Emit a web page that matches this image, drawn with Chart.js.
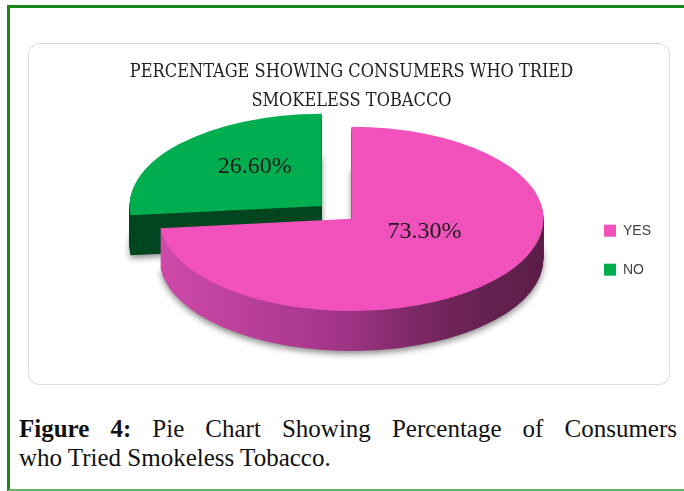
<!DOCTYPE html>
<html>
<head>
<meta charset="utf-8">
<script src="https://cdn.jsdelivr.net/npm/chart.js@4/dist/chart.umd.min.js"></script>
<style>
  html, body { margin: 0; padding: 0; background: #fff; }
  body { width: 684px; height: 491px; position: relative; overflow: hidden; }
  #frame { position: absolute; left: 7px; top: 5px; width: 690px; height: 481px;
           border-left: 3px solid #17891a; border-top: 3px solid #17891a; border-bottom: 2px solid #62b862; }
  #box { position: absolute; left: 28px; top: 43px; width: 640px; height: 340px;
         border: 1.5px dotted #b9b9b9; border-radius: 12px; }
  #wrap { position: absolute; left: 28px; top: 43px; width: 642px; height: 342px; }
  .cap { position: absolute; left: 19px; width: 658px; white-space: nowrap;
         font-family: "Liberation Serif", serif; font-size: 25px; line-height: 29px; color: #111; }
  #cap1 { top: 414px; text-align: justify; text-align-last: justify; }
  #cap2 { top: 443px; text-align: left; }
  .cap b { font-weight: bold; }
</style>
</head>
<body>
<div id="frame"></div>
<div id="box"></div>
<div id="wrap"><canvas id="c" width="642" height="342"></canvas></div>
<div class="cap" id="cap1"><b>Figure 4:</b> Pie Chart Showing Percentage of Consumers</div>
<div class="cap" id="cap2">who Tried Smokeless Tobacco.</div>
<script>
const categories = ["YES", "NO"];
const values = [73.3, 26.6];
const valueLabels = ["73.30%", "26.60%"];
const titleLines = ["PERCENTAGE SHOWING CONSUMERS WHO TRIED", "SMOKELESS TOBACCO"];
const topColors = ["#F051BA", "#00AE4F"];

const TILT = 0.48;      // vertical squash of the pie
const DEPTH = 40;       // thickness of the 3D side

function sideFill(ctx, arc, i) {
  if (i === 1) return "#00461F";
  const g = ctx.createLinearGradient(arc.x - arc.outerRadius, 0, arc.x + arc.outerRadius, 0);
  g.addColorStop(0, "#CF4AAA");
  g.addColorStop(0.45, "#A43689");
  g.addColorStop(0.75, "#6E2459");
  g.addColorStop(1, "#5A1D47");
  return g;
}

function copyOpts(o, bg) {
  const keys = ['offset','spacing','circular','borderAlign','borderRadius','borderJoinStyle','borderDash','borderDashOffset','borderColor','selfJoin'];
  const r = {};
  keys.forEach(k => { r[k] = o[k]; });
  r.backgroundColor = bg;
  r.borderWidth = 0;
  return r;
}

const tiltPlugin = {
  id: 'tilt3d',
  beforeDatasetsDraw(chart) {
    const ctx = chart.ctx;
    const meta = chart.getDatasetMeta(0);
    const a0 = meta.data[0];
    const cx = a0.x, cy = a0.y;
    for (let d = DEPTH; d >= 1; d--) {
      ctx.save();
      if (d === DEPTH) {
        ctx.shadowColor = "rgba(0,0,0,0.45)";
        ctx.shadowBlur = 6;
        ctx.shadowOffsetY = 3;
      }
      ctx.translate(cx, cy + d);
      ctx.scale(1, TILT);
      ctx.translate(-cx, -cy);
      meta.data.forEach((arc, i) => {
        const fake = Object.create(arc);
        fake.options = copyOpts(arc.options, sideFill(ctx, arc, i));
        arc.draw.call(fake, ctx);
      });
      ctx.restore();
    }
    ctx.save();
    ctx.translate(cx, cy);
    ctx.scale(1, TILT);
    ctx.translate(-cx, -cy);
  },
  afterDatasetsDraw(chart) {
    const ctx = chart.ctx;
    ctx.restore();
    const meta = chart.getDatasetMeta(0);
    ctx.save();
    ctx.font = "24px 'Liberation Serif', serif";
    ctx.fillStyle = "#1a1a1a";
    ctx.textAlign = "center";
    ctx.textBaseline = "middle";
    meta.data.forEach((arc, i) => {
      const mid = (arc.startAngle + arc.endAngle) / 2;
      const off = (arc.options.offset || 0) / 4;
      const r = arc.outerRadius * 0.47 + off;
      const x = arc.x + Math.cos(mid) * r + (i === 0 ? 6 : 0);
      const y = arc.y + Math.sin(mid) * r * TILT - 10 - (i === 0 ? 6 : 0);
      ctx.fillText(valueLabels[i], x, y);
    });
    ctx.restore();
  }
};

new Chart(document.getElementById('c'), {
  type: 'pie',
  data: {
    labels: categories,
    datasets: [{
      data: values,
      backgroundColor: topColors,
      borderWidth: 0,
      offset: [0, 160],
      radius: 192,
      clip: false
    }]
  },
  options: {
    responsive: false,
    animation: false,
    layout: { padding: { left: 96, right: 9, top: 0, bottom: 68 } },
    plugins: {
      tooltip: { enabled: false },
      title: {
        display: true,
        fullSize: false,
        text: titleLines,
        color: "#222",
        font: { family: "'DejaVu Serif Condensed', 'DejaVu Serif', serif", size: 18, weight: 'normal', lineHeight: 1.6 },
        padding: { top: 15, bottom: 5 }
      },
      legend: {
        position: 'right',
        title: { display: true, text: '', padding: { top: 126, bottom: 0 } },
        labels: {
          color: "#404040",
          font: { family: "'Liberation Sans', Arial, sans-serif", size: 14 },
          boxWidth: 12,
          boxHeight: 12,
          padding: 25
        }
      }
    }
  },
  plugins: [tiltPlugin]
});
</script>
</body>
</html>
